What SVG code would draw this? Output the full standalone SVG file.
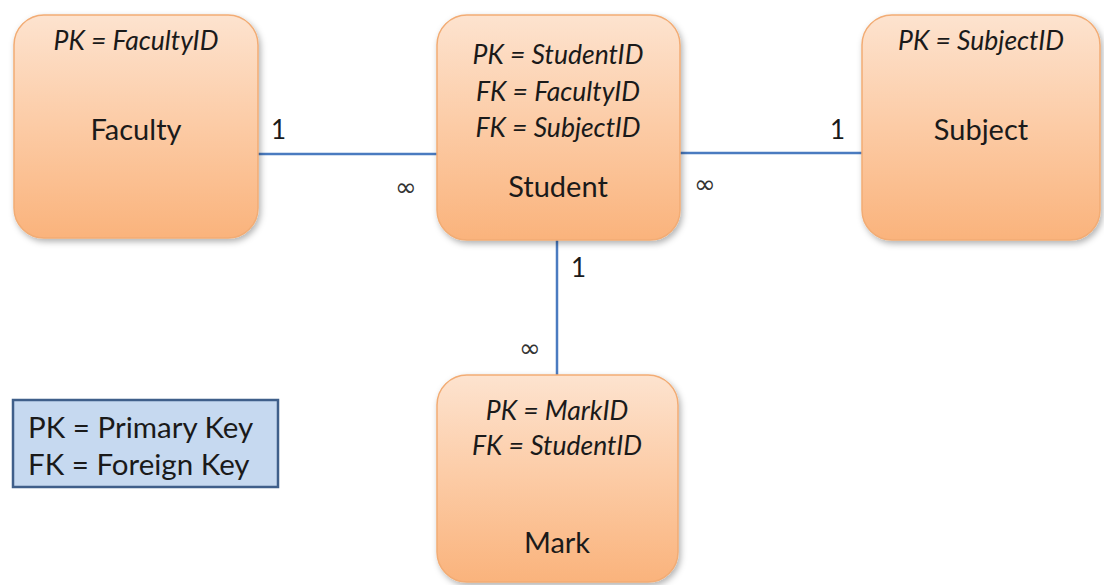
<svg xmlns="http://www.w3.org/2000/svg" width="1104" height="585" viewBox="0 0 1104 585">
  <defs>
    <linearGradient id="orange" x1="0" y1="0" x2="0" y2="1">
      <stop offset="0" stop-color="#fde3cf"/>
      <stop offset="0.5" stop-color="#fccba5"/>
      <stop offset="1" stop-color="#fab37c"/>
    </linearGradient>
    <filter id="shadow" x="-10%" y="-10%" width="125%" height="125%">
      <feDropShadow dx="2" dy="3" stdDeviation="3" flood-color="#000" flood-opacity="0.3"/>
    </filter>
    <style>
      .box { fill: url(#orange); stroke: #f2ac74; stroke-width: 1.5; filter: url(#shadow); }
      .key { font-family: Lato, "Liberation Sans", sans-serif; font-style: italic; font-size: 26.5px; fill: #1a1a1a; text-anchor: middle; }
      .name { font-family: Lato, "Liberation Sans", sans-serif; font-size: 29px; fill: #1a1a1a; text-anchor: middle; }
      .conn { stroke: #4a7bc0; stroke-width: 2.5; fill: none; }
      .one { font-family: Lato, "Liberation Sans", sans-serif; font-size: 26px; fill: #1a1a1a; }
      .inf { font-family: "DejaVu Sans", sans-serif; font-size: 26px; fill: #333; }
      .legend { fill: #c6d9f0; stroke: #3f5f8a; stroke-width: 2.5; }
      .ltext { font-family: Lato, "Liberation Sans", sans-serif; font-size: 29.5px; fill: #1a1a1a; }
    </style>
  </defs>
  <rect width="1104" height="585" fill="#ffffff"/>

  <g id="connectors">
    <line class="conn" x1="258" y1="154" x2="437" y2="154"/>
    <line class="conn" x1="680" y1="153" x2="862" y2="153"/>
    <line class="conn" x1="557" y1="240" x2="557" y2="375"/>
    <text class="one" x="271" y="139">1</text>
    <text class="inf" x="395" y="196">∞</text>
    <text class="inf" x="694" y="193">∞</text>
    <text class="one" x="830" y="139">1</text>
    <text class="one" x="571" y="277">1</text>
    <text class="inf" x="519" y="357">∞</text>
  </g>

  <g id="faculty">
    <rect class="box" x="14" y="15" width="244" height="223" rx="30" ry="30"/>
    <text class="key" x="136" y="50">PK = FacultyID</text>
    <text class="name" x="136" y="140">Faculty</text>
  </g>

  <g id="student">
    <rect class="box" x="437" y="15" width="243" height="225" rx="30" ry="30"/>
    <text class="key" x="558" y="64">PK = StudentID</text>
    <text class="key" x="558" y="101">FK = FacultyID</text>
    <text class="key" x="558" y="137">FK = SubjectID</text>
    <text class="name" x="558" y="197">Student</text>
  </g>

  <g id="subject">
    <rect class="box" x="862" y="15" width="238" height="225" rx="30" ry="30"/>
    <text class="key" x="981" y="50">PK = SubjectID</text>
    <text class="name" x="981" y="140">Subject</text>
  </g>

  <g id="mark">
    <rect class="box" x="437" y="375" width="241" height="207" rx="30" ry="30"/>
    <text class="key" x="557" y="420">PK = MarkID</text>
    <text class="key" x="557" y="455">FK = StudentID</text>
    <text class="name" x="557" y="553">Mark</text>
  </g>

  <g id="legend">
    <rect class="legend" x="13" y="400" width="265" height="87"/>
    <text class="ltext" x="28" y="438">PK = Primary Key</text>
    <text class="ltext" x="28" y="475">FK = Foreign Key</text>
  </g>
</svg>
